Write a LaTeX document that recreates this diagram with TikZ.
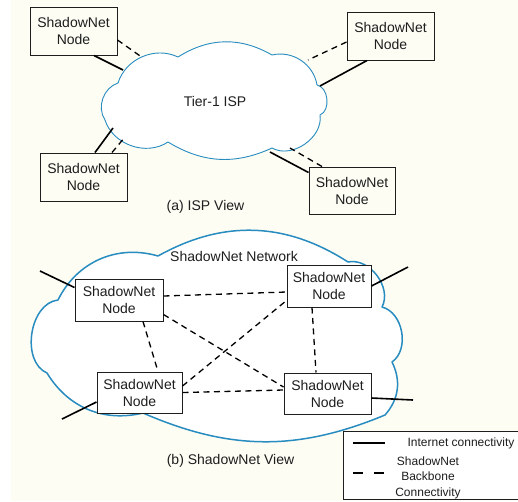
\documentclass[tikz,border=0pt]{standalone}
\usepackage{fontspec}
\setmainfont{Liberation Sans}
\usetikzlibrary{calc}
\definecolor{cream}{RGB}{253,253,244}
\definecolor{cloudblue}{RGB}{40,140,192}
\definecolor{ink}{RGB}{30,30,30}
\begin{document}
\begin{tikzpicture}[x=1pt,y=-1pt,
  cloudline/.style={draw=cloudblue, fill=white, line join=round},
  nodebox/.style={draw=ink, line width=1pt, align=center, inner sep=0pt,
    text=ink, font=\fontsize{14}{17}\selectfont},
  topbox/.style={nodebox, minimum width=87pt, minimum height=48pt},
  botbox/.style={nodebox, fill=white, minimum height=41pt},
  inet/.style={draw=black, line width=1.6pt},
  backbone/.style={draw=black, line width=1.3pt, dash pattern=on 6pt off 4.5pt},
  label/.style={text=ink, font=\fontsize{14}{17}\selectfont, inner sep=0pt},
  legtext/.style={text=ink, font=\fontsize{12}{15.5}\selectfont, inner sep=0pt, align=center}]
\useasboundingbox (0,0) rectangle (518,501);
\fill[white] (0,0) rectangle (518,501);
\fill[cream] (11,0) rectangle (518,501);

% ---------- (a) ISP view ----------
\path[cloudline, line width=0.9pt] (105,120) to[bend left=53] (118,83) to[bend left=49] (178,57)
  to[bend left=31] (272,55) to[bend left=47] (317,85) to[bend left=73] (320,115)
  to[bend left=64] (272,148) to[bend left=28] (168,142) to[bend left=53] cycle;
\node[label] (isp) at (215,101) {Tier-1 ISP};

\node[topbox] (tl) at (73.5,31) {ShadowNet\\Node};
\node[topbox] (tr) at (390.5,36) {ShadowNet\\Node};
\node[topbox] (bl) at (83.5,177) {ShadowNet\\Node};
\node[topbox, minimum width=86pt, minimum height=47pt] (br) at (352,190.5) {ShadowNet\\Node};

\coordinate (c1) at (123,70);
\coordinate (c2) at (143,58);
\coordinate (c3) at (308,60);
\coordinate (c4) at (320,86);
\coordinate (c5) at (113,128);
\coordinate (c6) at (125,137);
\coordinate (c7) at (270,152);
\coordinate (c8) at (290,148);

\draw[inet] ([xshift=20.5pt]tl.south) -- (c1);
\draw[backbone] ([yshift=-9pt]tl.east) -- (c2);
\draw[backbone] ([yshift=-6pt]tr.west) -- (c3);
\draw[inet] ([xshift=-23.5pt]tr.south) -- (c4);
\draw[inet] ([xshift=11.5pt]bl.north) -- (c5);
\draw[backbone] ([xshift=28.5pt]bl.north) -- (c6);
\draw[inet] ([yshift=-6pt]br.north west) -- (c7);
\draw[backbone] ([xshift=-30pt]br.north) -- (c8);

\node[label] (capa) at (205.5,206.5) {(a) ISP View};

% ---------- (b) ShadowNet view ----------
\path[cloudline, line width=1.5pt] (58,300) to[bend left=40] (158,256) to[bend left=31] (348,262)
  to[bend left=65] (382,307) to[bend left=65] (392,362) to[bend left=34] (385,415)
  to[bend left=23] (143,413) to[bend left=36] (47,373) to[bend left=75] cycle;
\node[label] (snet) at (234,256) {ShadowNet Network};

\node[botbox, minimum width=88pt, minimum height=42pt] (A) at (119,300) {ShadowNet\\Node};
\node[botbox, minimum width=84pt, minimum height=42pt] (B) at (329,286) {ShadowNet\\Node};
\node[botbox, minimum width=85pt] (C) at (139.5,392.5) {ShadowNet\\Node};
\node[botbox, minimum width=87pt] (D) at (327.5,393.5) {ShadowNet\\Node};

\draw[backbone] ([yshift=4pt]A.east) -- ([yshift=-6pt]B.west);
\draw[backbone] ([yshift=7pt]A.south east) -- ([yshift=6.5pt]D.west);
\draw[backbone] ([xshift=24pt]A.south) -- ([xshift=18.5pt]C.north);
\draw[backbone] ([yshift=6.5pt]C.east) -- ([yshift=7pt]B.south west);
\draw[backbone] (C.east) -- ([yshift=3.5pt]D.west);
\draw[backbone] ([xshift=-17pt]B.south) -- ([xshift=-11.5pt]D.north);

\coordinate (ea) at (40,271);
\coordinate (ec) at (62,419);
\coordinate (eb) at (408,267);
\coordinate (ed) at (413,400);
\draw[inet] (ea) -- ([yshift=-9pt]A.north west);
\draw[inet] (ec) -- ([yshift=-9.5pt]C.west);
\draw[inet] (B.east) -- (eb);
\draw[inet] ([yshift=-4.5pt]D.east) -- (ed);

\node[label] (capb) at (230.5,461) {(b) ShadowNet View};

% ---------- legend ----------
\draw[draw=ink, fill=white, line width=1pt] (343,431) rectangle (522,499);
\coordinate (l1a) at (353,443);
\coordinate (l1b) at (385,443);
\draw[inet] (l1a) -- (l1b);
\node[legtext] (lt1) at (461,443) {Internet connectivity};
\coordinate (l2a) at (353,473);
\coordinate (l2b) at (363,473);
\coordinate (l2c) at (374,473);
\coordinate (l2d) at (384,473);
\draw[inet, line width=1.6pt] (l2a) -- (l2b);
\draw[inet, line width=1.6pt] (l2c) -- (l2d);
\node[legtext] (lt2) at (428,477.5) {ShadowNet\\Backbone\\Connectivity};
\end{tikzpicture}
\end{document}
